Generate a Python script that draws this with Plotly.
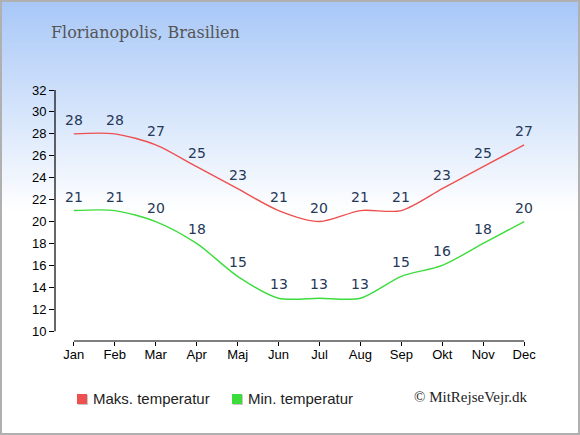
import plotly.graph_objects as go

months = ["Jan", "Feb", "Mar", "Apr", "Maj", "Jun", "Jul", "Aug", "Sep", "Okt", "Nov", "Dec"]
max_temp = [28, 28, 27, 25, 23, 21, 20, 21, 21, 23, 25, 27]
min_temp = [21, 21, 20, 18, 15, 13, 13, 13, 15, 16, 18, 20]
y_ticks = list(range(10, 33, 2))

red = "#ee5050"
green = "#3ddc3d"
label_color = "#253858"

x_idx = list(range(len(months)))

# plot area in pixels: left 55, width 470, top 90, height 251
def px_x(p):
    return (p - 55) / 470


def px_y(p):
    return 1 - (p - 90) / 251


fig = go.Figure()

shapes = []

# background gradient, light blue at top fading to white
n = 60
top = px_y(0)
grad_end = px_y(210)
for i in range(n):
    y0 = top - (top - grad_end) * i / n
    y1 = top - (top - grad_end) * (i + 1) / n
    t = i / n
    r = int(168 + (255 - 168) * t)
    g = int(200 + (255 - 200) * t)
    b = int(248 + (255 - 248) * t)
    shapes.append(dict(type="rect", xref="paper", yref="paper",
                       x0=-0.2, x1=1.2, y0=y1, y1=y0 + 0.002,
                       fillcolor=f"rgb({r},{g},{b})", line=dict(width=0),
                       layer="below"))

legend_items = [("Maks. temperatur", red, 77, 91),
                ("Min. temperatur", green, 232, 246)]

for name, values, color in [("Maks. temperatur", max_temp, red),
                            ("Min. temperatur", min_temp, green)]:
    fig.add_trace(go.Scatter(
        x=x_idx, y=values,
        mode="lines",
        name=name,
        showlegend=False,
        line=dict(color=color, width=1.4, shape="spline", smoothing=0.8),
        hoverinfo="skip",
    ))
    for xi, v in zip(x_idx, values):
        fig.add_annotation(x=xi, y=v, text=str(v), showarrow=False,
                           yshift=14, font=dict(size=14, color=label_color,
                                                family="DejaVu Sans"))

# hand-made legend with squares
for name, color, sq_x, txt_x in legend_items:
    shapes.append(dict(type="rect", xref="paper", yref="paper",
                       x0=px_x(sq_x + 1), x1=px_x(sq_x + 11),
                       y0=px_y(405), y1=px_y(395),
                       fillcolor="#c8c8c8", line=dict(width=0)))
    shapes.append(dict(type="rect", xref="paper", yref="paper",
                       x0=px_x(sq_x), x1=px_x(sq_x + 10),
                       y0=px_y(404), y1=px_y(394),
                       fillcolor=color, line=dict(width=0)))
    fig.add_annotation(xref="paper", yref="paper", x=px_x(txt_x), y=px_y(398),
                       xanchor="left", yanchor="middle", text=name, showarrow=False,
                       font=dict(size=15, color="#222222", family="Liberation Sans"))

# outer border
shapes.append(dict(type="rect", xref="paper", yref="paper",
                   x0=px_x(1), x1=px_x(579), y0=px_y(434), y1=px_y(1),
                   line=dict(color="#b0b0b0", width=2), layer="above"))

# axis lines
shapes.append(dict(type="line", xref="paper", yref="y", x0=0, x1=0, y0=10, y1=32,
                   line=dict(color="black", width=1.2)))
shapes.append(dict(type="line", xref="x", yref="paper", x0=0, x1=11, y0=0, y1=0,
                   line=dict(color="black", width=1.2)))

fig.update_layout(
    width=580, height=435,
    margin=dict(l=55, r=55, t=90, b=94),
    paper_bgcolor="white",
    plot_bgcolor="rgba(0,0,0,0)",
    shapes=shapes,
    showlegend=False,
    font=dict(family="Liberation Sans", size=13, color="black"),
)

fig.add_annotation(xref="paper", yref="paper", x=px_x(49), y=px_y(33),
                   xanchor="left", yanchor="middle",
                   text="Florianopolis, Brasilien", showarrow=False,
                   font=dict(family="DejaVu Serif", size=16, color="#555555"))
fig.add_annotation(xref="paper", yref="paper", x=px_x(530), y=px_y(397),
                   xanchor="right", yanchor="middle",
                   text="© MitRejseVejr.dk", showarrow=False,
                   font=dict(family="Liberation Serif", size=15, color="#222222"))

fig.update_xaxes(range=[-0.46, 11.02], tickmode="array", tickvals=x_idx, ticktext=months,
                 showgrid=False, zeroline=False, showline=False,
                 ticks="outside", ticklen=4, tickcolor="black",
                 ticklabelstandoff=-3,
                 tickfont=dict(size=13), fixedrange=True)
fig.update_yaxes(range=[9.1, 32], tickmode="array", tickvals=y_ticks,
                 showgrid=False, zeroline=False, showline=False,
                 ticks="outside", ticklen=5, tickcolor="black",
                 tickfont=dict(size=13), fixedrange=True)

fig.write_html("out.html", config={"displayModeBar": False},
               post_script="document.body.style.margin='0';")
